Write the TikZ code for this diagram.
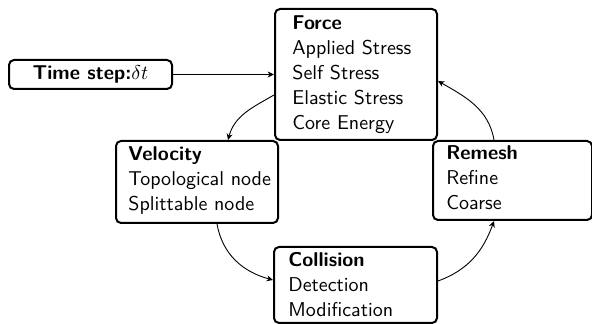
\documentclass[tikz,border=0pt]{standalone}
\usetikzlibrary{arrows.meta}
\begin{document}
\begin{tikzpicture}[x=0.5pt,y=-0.5pt,
  box/.style={draw,line width=1pt,rounded corners=2.5pt,inner sep=0pt,anchor=north west},
  txt/.style={font=\sffamily\fontsize{10}{12.5}\selectfont,align=left,inner sep=0pt,anchor=north west},
  conn/.style={line width=0.45pt,-{Stealth[length=3.2pt,width=3pt]}}]
\useasboundingbox (0,0) rectangle (592,324);
% boxes
\node[box,minimum width=81pt,minimum height=65.5pt] (force) at (274,8) {};
\node[box,minimum width=81pt,minimum height=41pt] (vel) at (115,140) {};
\node[box,minimum width=81.5pt,minimum height=38pt] (col) at (273,246) {};
\node[box,minimum width=79.5pt,minimum height=39.5pt] (rem) at (432,140) {};
\node[box,minimum width=81.5pt,minimum height=14.5pt,font=\sffamily\fontsize{10}{12.5}\selectfont] (time) at (8,59) {\textbf{Time step:}$\delta t$};
% texts
\node[txt] (forcet) at (292,15) {\textbf{Force}\\Applied Stress\\Self Stress\\Elastic Stress\\Core Energy};
\node[txt] (velt) at (128,146) {\textbf{Velocity}\\Topological node\\Splittable node};
\node[txt] (colt) at (288,252) {\textbf{Collision}\\Detection\\Modification};
\node[txt] (remt) at (446,145) {\textbf{Remesh}\\Refine\\Coarse};
% connectors
\draw[conn] (time.east) -- (force.west);
\draw[conn] ([yshift=-10.25pt]force.west) to[out=210,in=75] ([xshift=15.5pt]vel.north);
\draw[conn] ([xshift=10pt]vel.south) to[out=-80,in=165] ([yshift=2.5pt]col.west);
\draw[conn] ([yshift=2pt]col.east) to[out=20,in=-110] ([xshift=-9.25pt]rem.south);
\draw[conn] ([xshift=-9.25pt]rem.north) to[out=100,in=-30] ([yshift=-3.25pt]force.east);
\end{tikzpicture}
\end{document}
